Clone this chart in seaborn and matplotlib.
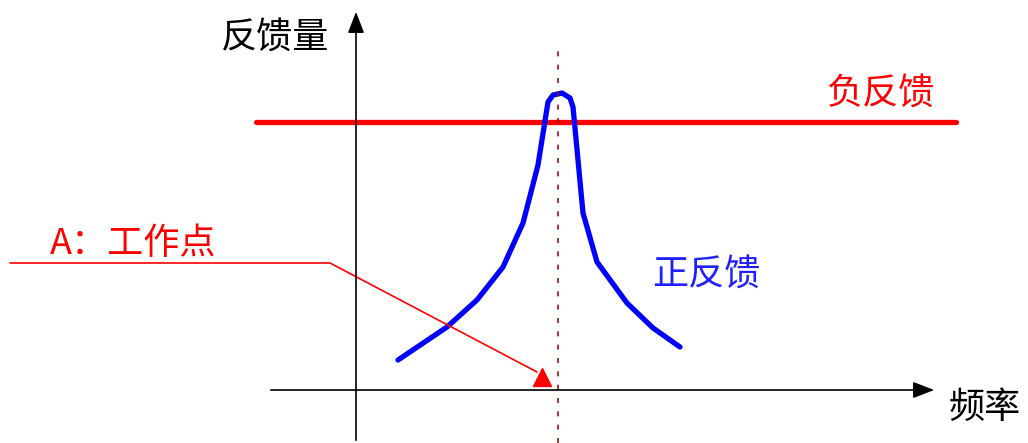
import numpy as np
import pandas as pd
import matplotlib.pyplot as plt
import seaborn as sns

# positive feedback curve (frequency vs feedback amount)
freq = [42, 91, 121, 147, 167, 182, 192, 197, 206, 214, 217, 227, 241, 271, 297, 324]
gain = [30, 63, 90, 123, 167, 225, 288, 295, 297, 292, 283, 177, 128, 87, 62, 43]
neg_level = 268          # negative feedback level
neg_span = [-100, 600]
peak_freq = 202
work_point = (186, 13)   # A: working point

sns.set_style("white")
plt.rcParams['font.family'] = ['Noto Sans CJK SC', 'DejaVu Sans']

df = pd.DataFrame({'freq': freq, 'gain': gain})

fig = plt.figure(figsize=(10.28, 4.43), dpi=100)
ax = fig.add_axes([0, 0, 1, 1])
ax.set_xlim(-356, 672)
ax.set_ylim(-53, 390)
ax.axis('off')

# axes with arrows
ax.annotate('', xy=(581, 0), xytext=(-88, 0),
            arrowprops=dict(arrowstyle='-|>,head_length=1.3,head_width=0.5', color='black', lw=1.2))
ax.annotate('', xy=(0, 381), xytext=(0, -53),
            arrowprops=dict(arrowstyle='-|>,head_length=1.3,head_width=0.5', color='black', lw=1.2))
ax.text(-81, 352, '反馈量', fontsize=26, ha='center', va='center', color='black')
ax.text(629, -18, '频率', fontsize=26, ha='center', va='center', color='black')

# negative feedback line
ax.plot(neg_span, [neg_level, neg_level], color='red', lw=3.8, solid_capstyle='round')
ax.text(524, 296, '负反馈', fontsize=26, ha='center', va='center', color='red')

# positive feedback curve
sns.lineplot(data=df, x='freq', y='gain', sort=False, color='blue', lw=3.8, ax=ax)
ax.text(350, 115, '正反馈', fontsize=26, ha='center', va='center', color='#2020ff')

# resonance line
ax.plot([peak_freq, peak_freq], [-53, 340], color='#a01010', lw=1.2, ls=(0, (3, 5)))

# working point
ax.plot([-346, -26, work_point[0] - 5], [127, 127, work_point[1] + 5], color='red', lw=1.2)
ax.plot(*work_point, marker='^', color='red', markersize=13, ls='none')
ax.text(-306, 146, 'A：工作点', fontsize=26, ha='left', va='center', color='red')

ax.set_xlabel('')
ax.set_ylabel('')
fig.savefig('out.png', dpi=100)
